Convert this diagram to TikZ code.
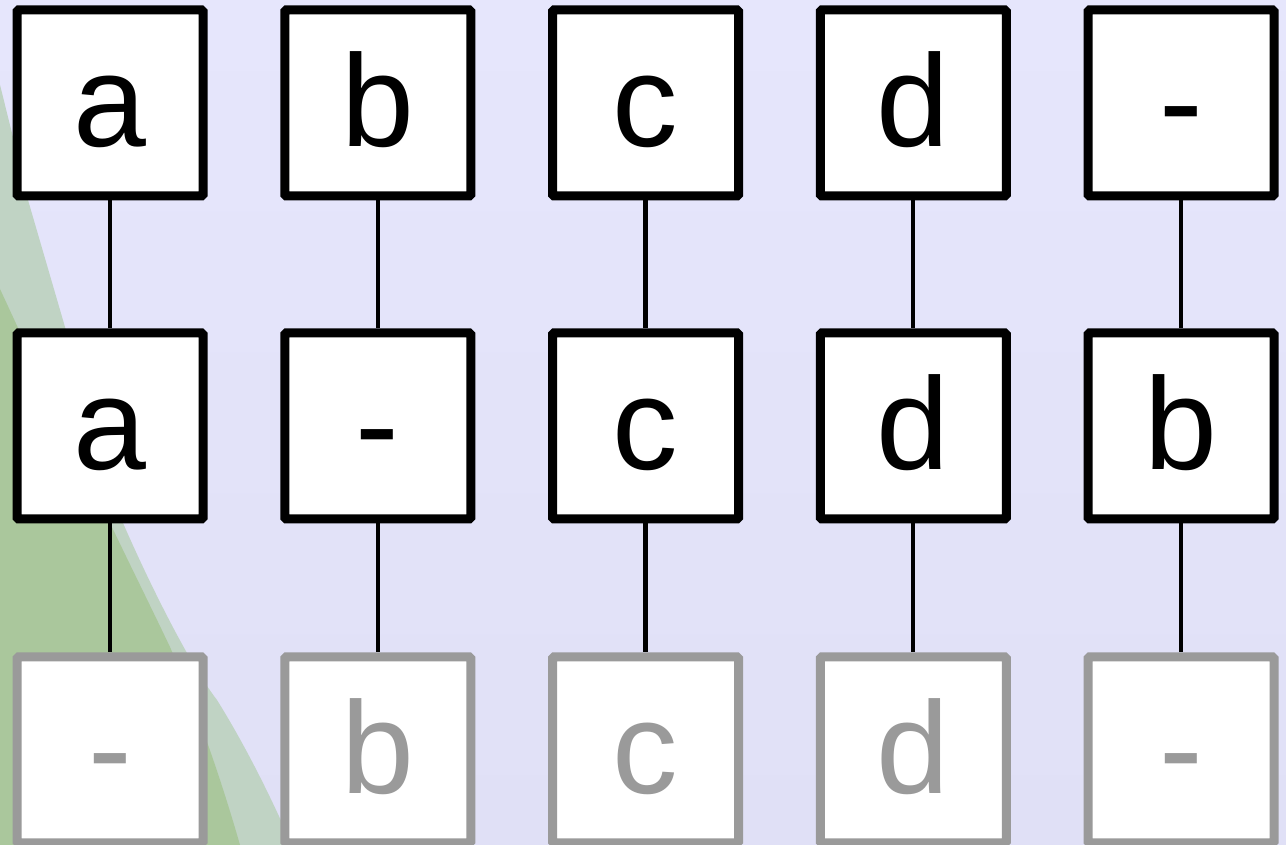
\documentclass[tikz,border=0pt]{standalone}
\usepackage{fontspec}
\setmainfont{Liberation Sans}
\begin{document}
\begin{tikzpicture}[x=1pt,y=1pt,
  cell/.style={draw=black,line width=9pt,fill=white,minimum size=186pt,
    inner sep=0pt,rounded corners=1.5pt,font=\fontsize{131}{150}\selectfont,
    text height=88pt,text depth=0pt},
  ghost/.style={cell,draw=ghostgray,text=ghostgray},
  link/.style={draw=black,line width=4.2pt}]
\definecolor{lavtop}{HTML}{E6E6FC}
\definecolor{lavbottom}{HTML}{E0E0F6}
\definecolor{leafdark}{HTML}{AAC79C}
\definecolor{leaflight}{HTML}{C0D3C4}
\definecolor{ghostgray}{HTML}{9A9A9A}
% backdrop
\useasboundingbox (0,0) rectangle (1286,845);
\shade[top color=lavtop, bottom color=lavbottom] (0,0) rectangle (1286,845);
% green wedge in the lower left corner
\fill[leaflight] (0,760) .. controls (10,720) and (20,680) .. (28,645)
  -- (65,518)
  .. controls (90,430) and (110,360) .. (123,322)
  .. controls (150,260) and (190,180) .. (217,145)
  .. controls (245,100) and (270,50) .. (292,0) -- (0,0) -- cycle;
\fill[leafdark] (0,556) .. controls (40,470) and (85,370) .. (110,322)
  .. controls (130,280) and (150,240) .. (170,198)
  .. controls (195,140) and (220,70) .. (240,0) -- (0,0) -- cycle;
% three rows of cells
\foreach \t [count=\i] in {a,b,c,d,-}
  \node[cell] (t\i) at ({110+267.75*(\i-1)},742) {\t};
\foreach \t [count=\i] in {a,-,c,d,b}
  \node[cell] (m\i) at ({110+267.75*(\i-1)},419) {\t};
\foreach \t [count=\i] in {-,b,c,d,-}
  \node[ghost] (g\i) at ({110+267.75*(\i-1)},95) {\t};
% vertical links
\foreach \i in {1,...,5} {
  \draw[link] (t\i.south) -- (m\i.north);
  \draw[link] (m\i.south) -- (g\i.north);
}
\end{tikzpicture}
\end{document}
